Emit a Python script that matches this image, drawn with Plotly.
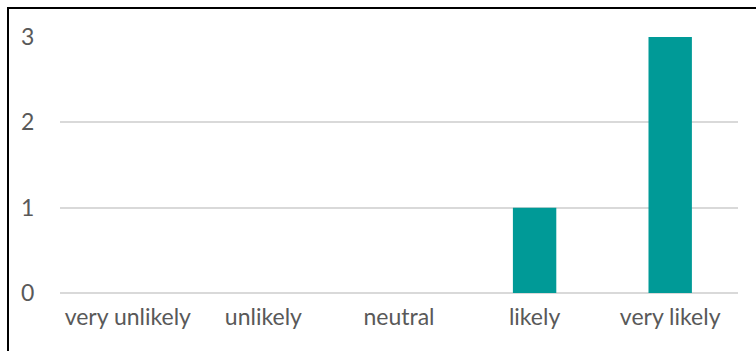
import plotly.graph_objects as go

categories = ["very unlikely", "unlikely", "neutral", "likely", "very likely"]
values = [0, 0, 0, 1, 3]
y_ticks = [0, 1, 2, 3]

W, H = 756, 351
L, R, T, B = 60, 738, 37, 293
pw, ph = R - L, B - T

fig = go.Figure(go.Bar(x=categories, y=values, marker=dict(color="#009a97", line=dict(width=0))))

def px_to_paper_x(px):
    return (px - L) / pw

def px_to_paper_y(py):
    return (B - py) / ph

fig.add_shape(type="rect", xref="paper", yref="paper",
              x0=px_to_paper_x(8), x1=px_to_paper_x(770),
              y0=px_to_paper_y(370), y1=px_to_paper_y(8),
              line=dict(color="black", width=2), fillcolor="rgba(0,0,0,0)", layer="above")

FONT = "Lato"
FS = 23
fig.update_layout(
    width=W, height=H,
    margin=dict(l=L, r=W - R, t=T, b=H - B, pad=0),
    paper_bgcolor="white", plot_bgcolor="white",
    bargap=0.68,
    showlegend=False,
    font=dict(family=FONT, size=FS, color="#595959"),
    xaxis=dict(showgrid=False, showline=False, zeroline=False, ticks="outside", ticklen=3,
               tickcolor="rgba(0,0,0,0)", tickfont=dict(family=FONT, size=FS, color="#595959")),
    yaxis=dict(range=[0, 3], tickvals=y_ticks, showgrid=True, gridcolor="#d9d9d9", gridwidth=2,
               zeroline=True, zerolinecolor="#d9d9d9", zerolinewidth=2, showline=False,
               ticks="outside", ticklen=20, tickcolor="rgba(0,0,0,0)",
               tickfont=dict(family=FONT, size=FS, color="#595959")),
)
fig.write_html("out.html")
